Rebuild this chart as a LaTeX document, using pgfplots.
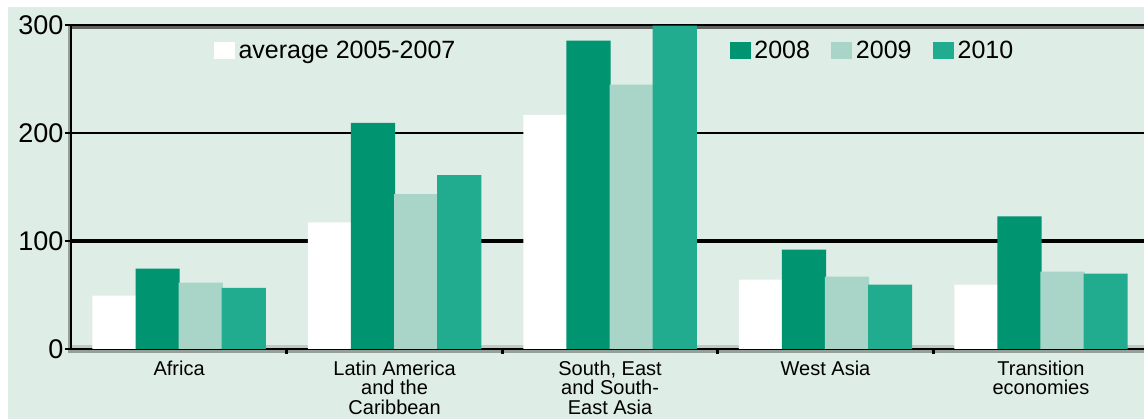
\documentclass[border=0pt]{standalone}
\usepackage{pgfplots}
\pgfplotsset{compat=1.18}
\usepackage{fontspec}
\setmainfont{Liberation Sans}
\definecolor{bg}{RGB}{222,237,229}
\definecolor{c08}{RGB}{0,148,112}
\definecolor{c09}{RGB}{168,213,200}
\definecolor{c10}{RGB}{33,171,143}
\definecolor{shadowL}{RGB}{150,160,155}
\definecolor{shadowT}{RGB}{95,98,96}
\definecolor{floor}{RGB}{192,202,197}
\begin{document}
\begin{tikzpicture}
\path[use as bounding box] (0pt,0pt) rectangle (1144pt,419pt);
\fill[bg] (7.5pt,0pt) rectangle (1144pt,412pt);
% shadows of the frame
\fill[shadowL] (67.5pt,65.5pt) rectangle (70pt,394pt);
\fill[shadowL] (67.5pt,65.5pt) rectangle (1144pt,68.8pt);
\fill[shadowT] (71pt,390pt) rectangle (1144pt,392.8pt);
\fill[floor] (72pt,71.2pt) rectangle (1144pt,74pt);
\begin{axis}[
  at={(71pt,70pt)}, anchor=south west, scale only axis,
  width=1073pt, height=324pt,
  xmin=-0.502, xmax=4.478, ymin=0, ymax=300,
  axis x line*=bottom, axis y line*=left,
  axis line style={-, black, line width=2.5pt},
  ytick={0,100,200,300},
  yticklabel style={font=\fontsize{27}{27}\selectfont, xshift=2pt},
  /pgf/number format/assume math mode=true,
  ymajorgrids, major grid style={black, line width=2.5pt},
  extra y ticks={100}, extra y tick labels={},
  extra y tick style={major grid style={black, line width=4.5pt}},
  tick align=outside, major tick length=6pt,
  tick style={black, line width=2.5pt},
  xtick={0,1,2,3,4},
  major x tick style={draw=none},
  minor xtick={0.5,1.5,2.5,3.5},
  minor tick length=5pt,
  minor x tick style={draw=black, line width=3pt},
  xticklabels={Africa, {Latin America\\and the\\Caribbean}, {South, East\\and South-\\East Asia}, West Asia, {Transition\\economies}},
  xticklabel style={font=\fontsize{20}{19.5}\selectfont, align=center, yshift=-2pt},
  mybar/.style={ybar, bar width=0.205, draw=none,
    legend image code/.code={\fill[##1] (0pt,-8.5pt) rectangle (21pt,8.5pt);}},
  legend columns=4,
  legend style={at={(rel axis cs:0.1333,0.921)}, anchor=west, draw=none, fill=none,
    inner sep=0pt, outer sep=0pt, font=\fontsize{25}{25}\selectfont,
    nodes={inner sep=1.5pt}, /tikz/column sep=2pt,
    /tikz/every even column/.append style={column sep=20pt}},
  legend cell align=left,
]
\addplot[mybar, fill=white, bar shift=-0.3] coordinates {(0,49.3) (1,117.2) (2,216.7) (3,64.2) (4,59.5)};
\addlegendentry{average 2005-2007\hspace*{253pt}}
\addplot[mybar, fill=c08, bar shift=-0.1] coordinates {(0,74.4) (1,209.3) (2,285.6) (3,92.1) (4,122.8)};
\addlegendentry{2008}
\addplot[mybar, fill=c09, bar shift=0.1] coordinates {(0,61.4) (1,143.3) (2,244.7) (3,67.0) (4,71.6)};
\addlegendentry{2009}
\addplot[mybar, fill=c10, bar shift=0.3] coordinates {(0,56.7) (1,161.0) (2,299.5) (3,59.5) (4,69.8)};
\addlegendentry{2010}
\end{axis}
\end{tikzpicture}
\end{document}
